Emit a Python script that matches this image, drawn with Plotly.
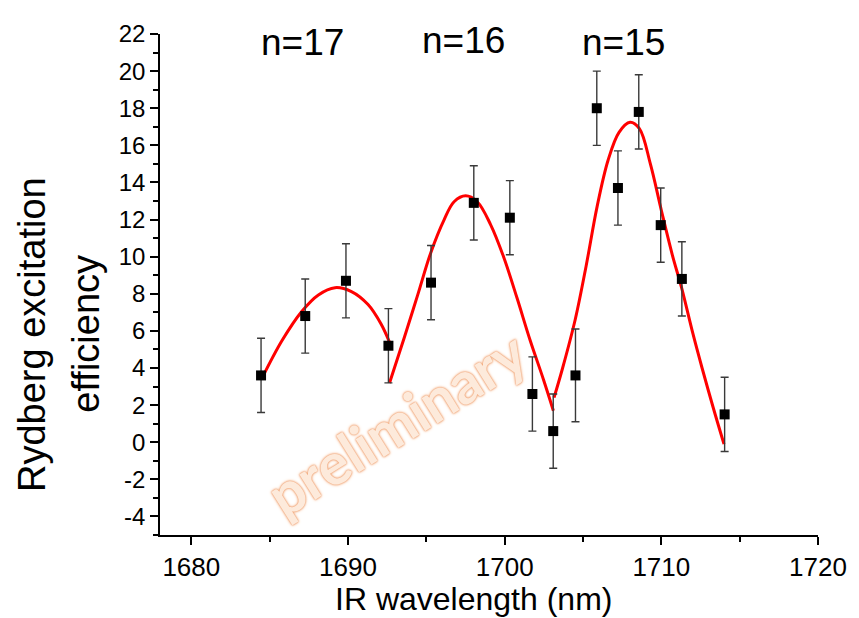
import plotly.graph_objects as go

# measured data points
wavelength = [1684.45, 1687.27, 1689.87, 1692.58, 1695.3, 1698.03, 1700.33, 1701.77,
              1703.1, 1704.52, 1705.88, 1707.23, 1708.56, 1709.96, 1711.31, 1714.04]
efficiency = [3.6, 6.8, 8.7, 5.2, 8.6, 12.9, 12.1, 2.6,
              0.6, 3.6, 18.0, 13.7, 17.8, 11.7, 8.8, 1.5]
err = [2.0, 2.0, 2.0, 2.0, 2.0, 2.0, 2.0, 2.0,
       2.0, 2.5, 2.0, 2.0, 2.0, 2.0, 2.0, 2.0]

# fit curves
fit17_x = [1684.48, 1685.79, 1687.06, 1688.11, 1689.17, 1690.22, 1691.28, 1692.12, 1692.65]
fit17_y = [3.40, 5.48, 7.06, 7.94, 8.33, 8.12, 7.42, 6.36, 5.39]

fit16_x = [1692.65, 1693.6, 1694.45, 1695.29, 1696.14, 1696.77, 1697.51, 1698.25,
           1699.1, 1699.94, 1700.79, 1701.63, 1702.48, 1703.11]
fit16_y = [3.19, 5.66, 7.94, 10.23, 12.0, 12.96, 13.28, 12.96,
           11.73, 9.97, 7.77, 5.48, 3.37, 1.70]

fit15_x = [1703.15, 1703.7, 1704.5, 1705.2, 1705.9, 1706.6, 1707.3, 1708.0, 1708.6,
           1709.3, 1710.0, 1710.7, 1711.3, 1712.0, 1712.6, 1713.3, 1714.0]
fit15_y = [2.4, 4.0, 6.6, 9.5, 12.7, 15.2, 16.7, 17.24, 16.9,
           15.0, 12.5, 10.1, 8.3, 5.9, 4.0, 1.9, -0.1]

x_ticks = [1680, 1690, 1700, 1710, 1720]
y_ticks = list(range(-4, 23, 2))

labels = ["n=17", "n=16", "n=15"]
label_x = [1687.1, 1697.4, 1707.6]
label_y = [21.55, 21.65, 21.55]

FONT = "Liberation Sans, Arial, sans-serif"

fig = go.Figure()
for fx, fy in [(fit17_x, fit17_y), (fit16_x, fit16_y), (fit15_x, fit15_y)]:
    fig.add_trace(go.Scatter(x=fx, y=fy, mode="lines",
                             line=dict(color="#ff0000", width=3, shape="spline"),
                             hoverinfo="skip", showlegend=False))

fig.add_trace(go.Scatter(
    x=wavelength, y=efficiency, mode="markers",
    marker=dict(symbol="square", size=10, color="black"),
    error_y=dict(type="data", array=err, visible=True, color="#3a3a3a",
                 thickness=1.4, width=4),
    showlegend=False))

for t, lx, ly in zip(labels, label_x, label_y):
    fig.add_annotation(x=lx, y=ly, xref="x", yref="y", text=t, showarrow=False,
                       font=dict(family=FONT, size=37, color="black"),
                       xanchor="center", yanchor="middle")

# watermark
fig.add_annotation(x=0.359, y=0.225, xref="paper", yref="paper", text="preliminary",
                   showarrow=False, textangle=-32,
                   font=dict(family="Lato, sans-serif", size=58, color="#fdeadb",
                             weight="bold",
                             shadow="0 0 2px #f0a070, 0 0 2px #f0a070, 0 0 4px #f6c4a0"),
                   xanchor="center", yanchor="middle")

# y title (two lines)
fig.add_annotation(x=-0.1946, y=0.401, xref="paper", yref="paper",
                   text="Rydberg excitation", showarrow=False, textangle=-90,
                   font=dict(family=FONT, size=38, color="black"),
                   xanchor="center", yanchor="middle")
fig.add_annotation(x=-0.1116, y=0.401, xref="paper", yref="paper",
                   text="efficiency", showarrow=False, textangle=-90,
                   font=dict(family=FONT, size=38, color="black"),
                   xanchor="center", yanchor="middle")
# x title
fig.add_annotation(x=(476 - 160) / 663, y=-0.127, xref="paper", yref="paper",
                   text="IR wavelength (nm)", showarrow=False,
                   font=dict(family=FONT, size=32, color="black"),
                   xanchor="center", yanchor="middle")

# page has an 8px body margin, so the figure is shrunk by 8px and margins shifted
fig.update_layout(
    width=851, height=610,
    margin=dict(l=152, r=36, t=16, b=83),
    plot_bgcolor="white", paper_bgcolor="white",
    xaxis=dict(range=[1678, 1720], tickvals=x_ticks, ticktext=[str(v) for v in x_ticks],
               showline=True, linecolor="black", linewidth=1.5, mirror=False,
               ticks="outside", ticklen=8, tickwidth=1.5, tickcolor="black",
               minor=dict(ticks="outside", ticklen=5, tickwidth=1.5, dtick=5,
                          tickcolor="black", showgrid=False),
               showgrid=False, zeroline=False,
               tickfont=dict(family=FONT, size=26, color="black")),
    yaxis=dict(range=[-5, 22], tickvals=y_ticks, ticktext=[str(v) for v in y_ticks],
               showline=True, linecolor="black", linewidth=1.5, mirror=False,
               ticks="outside", ticklen=8, tickwidth=1.5, tickcolor="black",
               minor=dict(ticks="outside", ticklen=5, tickwidth=1.5, dtick=1,
                          tickcolor="black", showgrid=False),
               showgrid=False, zeroline=False,
               tickfont=dict(family=FONT, size=24, color="black")),
)

fig.write_html("out.html")
